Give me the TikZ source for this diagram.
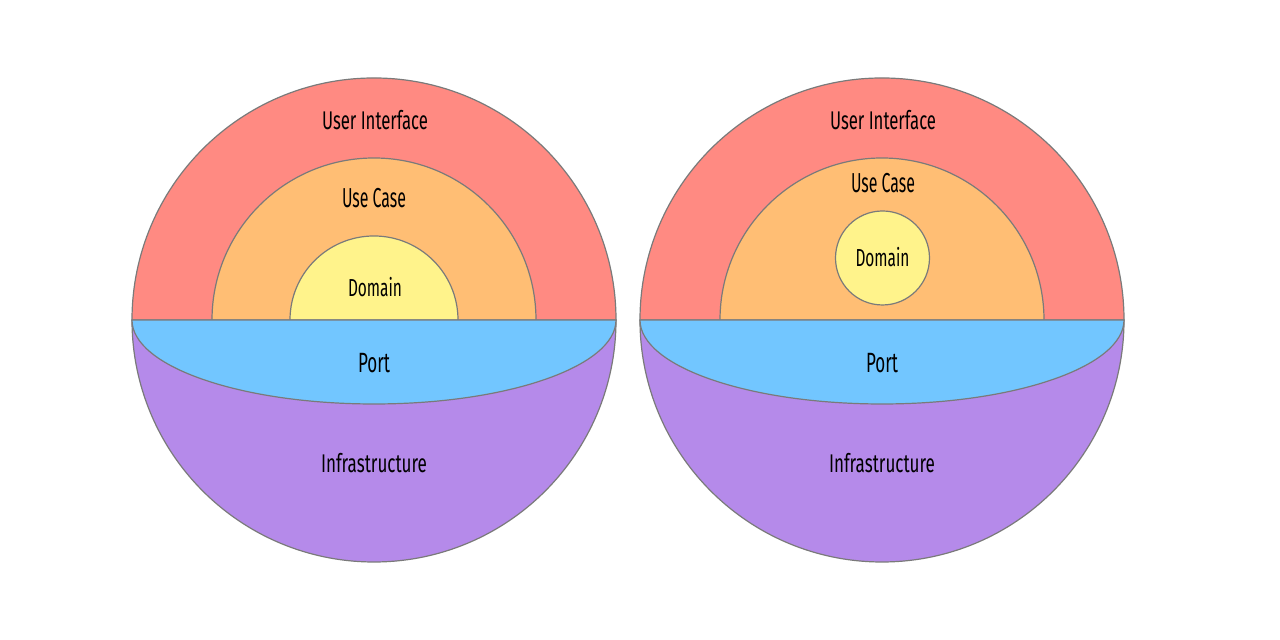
\documentclass[tikz,border=0pt]{standalone}
\usepackage{fontspec}
\setmainfont{Fira Sans}
\usepackage{graphicx}
\definecolor{uired}{HTML}{FF8A82}
\definecolor{ucorange}{HTML}{FFBE74}
\definecolor{domyellow}{HTML}{FFF38B}
\definecolor{portblue}{HTML}{72C6FF}
\definecolor{infpurple}{HTML}{B58AEA}
\definecolor{edgegray}{HTML}{7A7A7A}
% a label squeezed into a given width and cap height
\newcommand{\layerlabel}[2]{\resizebox{#1}{9.6pt}{#2}}
\tikzset{
  layer/.style={draw=edgegray, line width=0.6pt, line join=round},
  lbl/.style={inner sep=0pt, anchor=center, text=black},
}
\begin{document}
\begin{tikzpicture}[x=0.5pt,y=0.5pt]
\useasboundingbox (0,0) rectangle (1280,640);
\fill[white] (0,0) rectangle (1280,640);

% left sphere: layers cut in half
\coordinate (lc) at (374,320);
\path[layer, fill=infpurple] (lc) ++(-242,0) arc[start angle=180, end angle=360, radius=242] -- cycle;
\path[layer, fill=uired] (lc) ++(-242,0) arc[start angle=180, end angle=0, radius=242] -- cycle;
\path[layer, fill=ucorange] (lc) ++(-162,0) arc[start angle=180, end angle=0, radius=162] -- cycle;
\path[layer, fill=domyellow] (lc) ++(-84,0) arc[start angle=180, end angle=0, radius=84] -- cycle;
\path[layer, fill=portblue] (lc) ++(-242,0) arc[start angle=180, end angle=360, x radius=242, y radius=84] -- cycle;

\node[lbl] (ui1) at (375,520) {\layerlabel{53pt}{User Interface}};
\node[lbl] (uc1) at (374,442) {\layerlabel{32pt}{Use Case}};
\node[lbl] (dom1) at (375,353) {\layerlabel{27pt}{Domain}};
\node[lbl] (port1) at (374,277) {\layerlabel{16pt}{Port}};
\node[lbl] (inf1) at (374,177) {\layerlabel{53pt}{Infrastructure}};

% right sphere: domain as a core inside the use case layer
\coordinate (rc) at (882,320);
\path[layer, fill=infpurple] (rc) ++(-242,0) arc[start angle=180, end angle=360, radius=242] -- cycle;
\path[layer, fill=uired] (rc) ++(-242,0) arc[start angle=180, end angle=0, radius=242] -- cycle;
\path[layer, fill=ucorange] (rc) ++(-162,0) arc[start angle=180, end angle=0, radius=162] -- cycle;
\path[layer, fill=domyellow] (882.5,382) circle[radius=47];
\path[layer, fill=portblue] (rc) ++(-242,0) arc[start angle=180, end angle=360, x radius=242, y radius=84] -- cycle;

\node[lbl] (ui2) at (883,520) {\layerlabel{53pt}{User Interface}};
\node[lbl] (uc2) at (883,457) {\layerlabel{32pt}{Use Case}};
\node[lbl] (dom2) at (882.5,383) {\layerlabel{27pt}{Domain}};
\node[lbl] (port2) at (882,277) {\layerlabel{16pt}{Port}};
\node[lbl] (inf2) at (882,177) {\layerlabel{53pt}{Infrastructure}};
\end{tikzpicture}
\end{document}
